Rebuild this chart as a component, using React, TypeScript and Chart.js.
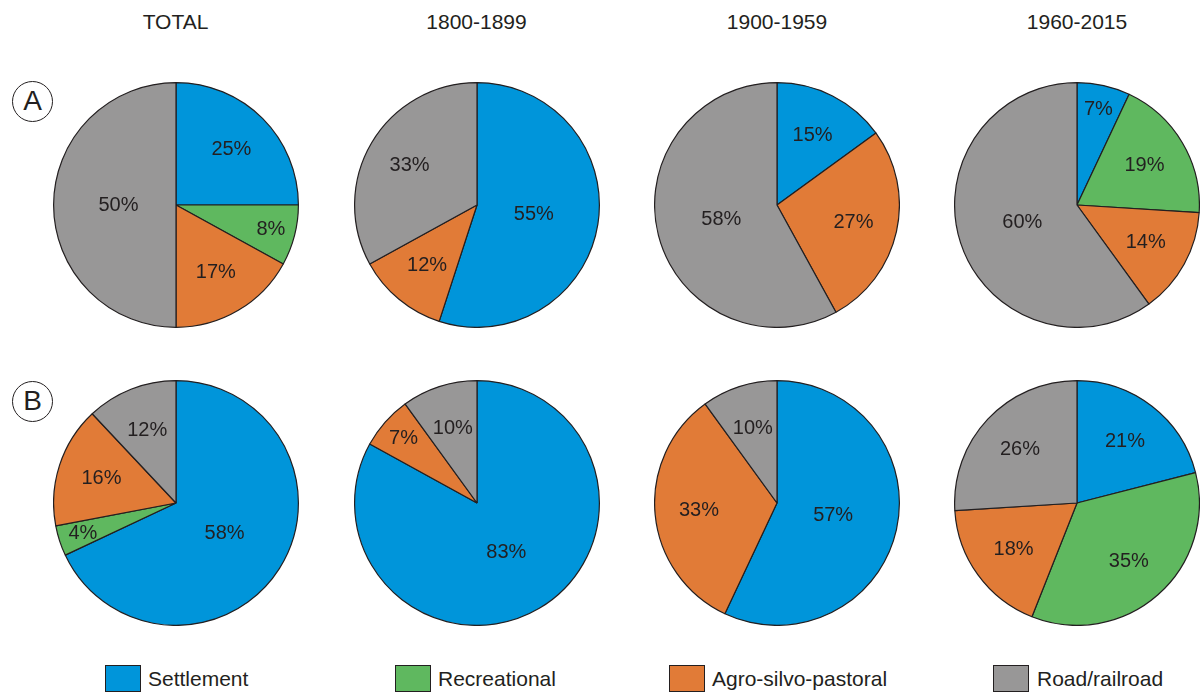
import React, { useEffect, useRef } from "react";
import { Chart, registerables } from "chart.js";

Chart.register(...registerables);

// ---------- data ----------
const categories = ["Settlement", "Recreational", "Agro-silvo-pastoral", "Road/railroad"];
const categoryColors = ["#0095da", "#5fb85f", "#e17b37", "#989797"];
const periods = ["TOTAL", "1800-1899", "1900-1959", "1960-2015"];
const rowLabels = ["A", "B"];

// values per pie: [Settlement, Recreational, Agro-silvo-pastoral, Road/railroad]
const rowA_total = [25, 8, 17, 50];
const rowA_1800 = [55, 0, 12, 33];
const rowA_1900 = [15, 0, 27, 58];
const rowA_1960 = [7, 19, 14, 60];
const rowB_total = [68, 4, 16, 12]; // slice size as drawn
const rowB_1800 = [83, 0, 7, 10];
const rowB_1900 = [57, 0, 33, 10];
const rowB_1960 = [21, 35, 18, 26];

// printed slice labels
const rowA_total_labels = ["25%", "8%", "17%", "50%"];
const rowA_1800_labels = ["55%", "", "12%", "33%"];
const rowA_1900_labels = ["15%", "", "27%", "58%"];
const rowA_1960_labels = ["7%", "19%", "14%", "60%"];
const rowB_total_labels = ["58%", "4%", "16%", "12%"];
const rowB_1800_labels = ["83%", "", "7%", "10%"];
const rowB_1900_labels = ["57%", "", "33%", "10%"];
const rowB_1960_labels = ["21%", "35%", "18%", "26%"];

const rows = [
  [rowA_total, rowA_1800, rowA_1900, rowA_1960],
  [rowB_total, rowB_1800, rowB_1900, rowB_1960],
];
const rowsLabels = [
  [rowA_total_labels, rowA_1800_labels, rowA_1900_labels, rowA_1960_labels],
  [rowB_total_labels, rowB_1800_labels, rowB_1900_labels, rowB_1960_labels],
];

// ---------- layout ----------
const FONT = '"Liberation Sans", Arial, Helvetica, sans-serif';
const TEXT = "#231f20";
const S = 246;
const colX = [175.5, 476.5, 777, 1077];
const rowY = [205, 503];

function makeLabelPlugin(labels: string[]) {
  return {
    id: "sliceLabels",
    afterDatasetsDraw(chart: any) {
      const ctx = chart.ctx;
      const ds = chart.data.datasets[0];
      const meta = chart.getDatasetMeta(0);
      ctx.save();
      ctx.font = "20px " + FONT;
      ctx.fillStyle = TEXT;
      ctx.textAlign = "center";
      ctx.textBaseline = "middle";
      meta.data.forEach((arc: any, i: number) => {
        const p = arc.getProps(["x", "y", "startAngle", "endAngle", "outerRadius"], true);
        const v = ds.data[i] as number;
        const f = v >= 45 ? 0.47 : v <= 8 ? 0.8 : 0.64;
        const mid = (p.startAngle + p.endAngle) / 2;
        ctx.fillText(labels[i], p.x + Math.cos(mid) * p.outerRadius * f, p.y + Math.sin(mid) * p.outerRadius * f);
      });
      ctx.restore();
    },
  };
}

function Pie({ values, labels, cx, cy }: { values: number[]; labels: string[]; cx: number; cy: number }) {
  const ref = useRef<HTMLCanvasElement>(null);
  useEffect(() => {
    const idx = values.map((_, i) => i).filter((i) => values[i] > 0);
    const chart = new Chart(ref.current as HTMLCanvasElement, {
      type: "pie",
      data: {
        labels: idx.map((i) => categories[i]),
        datasets: [
          {
            data: idx.map((i) => values[i]),
            backgroundColor: idx.map((i) => categoryColors[i]),
            borderColor: TEXT,
            borderWidth: 1.2,
          },
        ],
      },
      options: {
        responsive: false,
        animation: false,
        devicePixelRatio: 1,
        layout: { padding: 0 },
        plugins: { legend: { display: false }, tooltip: { enabled: false } },
      },
      plugins: [makeLabelPlugin(idx.map((i) => labels[i]))],
    });
    return () => chart.destroy();
  }, []);
  return (
    <canvas
      ref={ref}
      width={S}
      height={S}
      style={{ position: "absolute", left: cx - S / 2, top: cy - S / 2, width: S, height: S }}
    />
  );
}

const legendPos = [
  { box: 105, text: 148 },
  { box: 395, text: 438 },
  { box: 669, text: 712 },
  { box: 993, text: 1037 },
];

export default function App() {
  return (
    <div
      style={{
        position: "absolute",
        left: 0,
        top: 0,
        width: 1203,
        height: 693,
        background: "#fff",
        fontFamily: FONT,
        color: TEXT,
        overflow: "hidden",
      }}
    >
      {periods.map((p, c) => (
        <div
          key={p}
          style={{
            position: "absolute",
            left: colX[c] - 100,
            top: 10,
            width: 200,
            height: 24,
            lineHeight: "24px",
            textAlign: "center",
            fontSize: 21,
          }}
        >
          {p}
        </div>
      ))}
      {rowLabels.map((r, k) => (
        <div
          key={r}
          style={{
            position: "absolute",
            left: 12,
            top: (k === 0 ? 101 : 401) - 20.5,
            width: 41,
            height: 41,
            boxSizing: "border-box",
            border: "1.5px solid " + TEXT,
            borderRadius: "50%",
            display: "flex",
            alignItems: "center",
            justifyContent: "center",
            fontSize: 28,
            lineHeight: "28px",
          }}
        >
          {r}
        </div>
      ))}
      {rows.map((row, r) =>
        row.map((vals, c) => (
          <Pie key={r + "-" + c} values={vals} labels={rowsLabels[r][c]} cx={colX[c]} cy={rowY[r]} />
        ))
      )}
      {categories.map((cat, i) => (
        <React.Fragment key={cat}>
          <div
            style={{
              position: "absolute",
              left: legendPos[i].box,
              top: 665,
              width: 36,
              height: 27,
              boxSizing: "border-box",
              border: "1.5px solid " + TEXT,
              background: categoryColors[i],
            }}
          />
          <div
            style={{
              position: "absolute",
              left: legendPos[i].text,
              top: 667,
              height: 24,
              lineHeight: "24px",
              fontSize: 21,
              whiteSpace: "nowrap",
            }}
          >
            {cat}
          </div>
        </React.Fragment>
      ))}
    </div>
  );
}
